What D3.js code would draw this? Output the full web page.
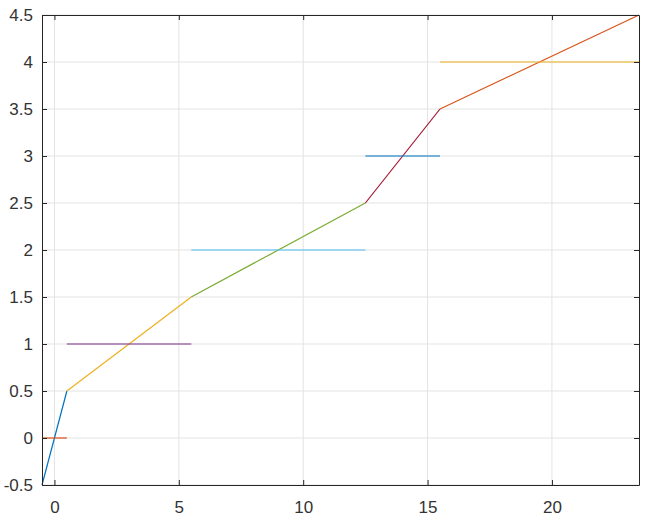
<!DOCTYPE html>
<html>
<head>
<meta charset="utf-8">
<script src="https://cdn.jsdelivr.net/npm/d3@7"></script>
<style>
  body { margin: 0; background: #fff; }
  .tick text { font-family: "Liberation Sans", Arial, sans-serif; font-size: 17px; fill: #333; }
</style>
</head>
<body>
<div id="chart"></div>
<script>
// segments: [x1, y1, x2, y2], in drawing order
const segStart = [[-0.5, -0.5], [-0.5, 0], [0.5, 0.5], [0.5, 1], [5.5, 1.5], [5.5, 2], [12.5, 2.5], [12.5, 3], [15.5, 3.5], [15.5, 4]];
const segEnd = [[0.5, 0.5], [0.5, 0], [5.5, 1.5], [5.5, 1], [12.5, 2.5], [12.5, 2], [15.5, 3.5], [15.5, 3], [23.5, 4.5], [23.5, 4]];
const segColors = ["#0072BD", "#D95319", "#EDB120", "#7E2F8E", "#77AC30", "#4DBEEE", "#A2142F", "#0072BD", "#D95319", "#EDB120"];
const xTicks = [0, 5, 10, 15, 20];
const yTicks = [-0.5, 0, 0.5, 1, 1.5, 2, 2.5, 3, 3.5, 4, 4.5];

const margin = { top: 15, right: 12, bottom: 40, left: 42 },
    width = 651 - margin.left - margin.right,
    height = 525 - margin.top - margin.bottom;

const svg = d3.select("#chart")
    .append("svg")
    .attr("width", 651)
    .attr("height", 525)
    .append("g")
    .attr("transform", `translate(${margin.left},${margin.top})`);

const x = d3.scaleLinear().domain([-0.5, 23.5]).range([0, width]);
const y = d3.scaleLinear().domain([-0.5, 4.5]).range([height, 0]);

// grid
svg.append("g").selectAll("line")
    .data(xTicks)
    .join("line")
    .attr("x1", d => x(d)).attr("x2", d => x(d))
    .attr("y1", 0).attr("y2", height)
    .attr("stroke", "#e3e3e3").attr("stroke-width", 1);
svg.append("g").selectAll("line")
    .data(yTicks)
    .join("line")
    .attr("y1", d => y(d)).attr("y2", d => y(d))
    .attr("x1", 0).attr("x2", width)
    .attr("stroke", "#e3e3e3").attr("stroke-width", 1);

// lines
svg.append("g").selectAll("line")
    .data(segStart.map((s, i) => ({ s: s, e: segEnd[i], c: segColors[i] })))
    .join("line")
    .attr("x1", d => x(d.s[0])).attr("y1", d => y(d.s[1]))
    .attr("x2", d => x(d.e[0])).attr("y2", d => y(d.e[1]))
    .attr("stroke", d => d.c)
    .attr("stroke-width", 1.2);

// axes (box with inward ticks)
const fmt = d => String(d);
const axisStyle = g => {
    g.select(".domain").attr("stroke", "#262626");
    g.selectAll(".tick line").attr("stroke", "#262626");
};
svg.append("g")
    .attr("transform", `translate(0,${height})`)
    .call(d3.axisBottom(x).tickValues(xTicks).tickFormat(fmt).tickSizeInner(-5).tickSizeOuter(0).tickPadding(16))
    .call(axisStyle);
svg.append("g")
    .call(d3.axisTop(x).tickValues(xTicks).tickSizeInner(-5).tickSizeOuter(0).tickFormat(""))
    .call(axisStyle);
svg.append("g")
    .call(d3.axisLeft(y).tickValues(yTicks).tickFormat(fmt).tickSizeInner(-5).tickSizeOuter(0).tickPadding(9))
    .call(axisStyle);
svg.append("g")
    .attr("transform", `translate(${width},0)`)
    .call(d3.axisRight(y).tickValues(yTicks).tickSizeInner(-5).tickSizeOuter(0).tickFormat(""))
    .call(axisStyle);
</script>
</body>
</html>
